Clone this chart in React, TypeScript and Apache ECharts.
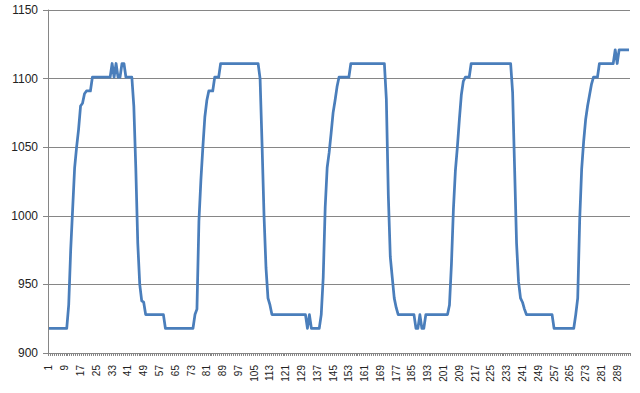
import React, { useEffect, useRef } from "react";
import * as echarts from "echarts";

const categories: string[] = Array.from({ length: 295 }, (_, i) => String(i + 1));

const values: number[] = [
  918, 918, 918, 918, 918, 918, 918, 918, 918, 918,
  935, 975, 1005, 1035, 1050, 1063, 1080, 1082, 1089, 1091, 1091, 1091,
  1101, 1101, 1101, 1101, 1101, 1101, 1101, 1101, 1101, 1101,
  1111, 1101, 1111, 1101, 1101, 1111, 1111, 1101, 1101, 1101, 1101,
  1080, 1035, 980, 950, 938, 937,
  928, 928, 928, 928, 928, 928, 928, 928, 928, 928,
  918, 918, 918, 918, 918, 918, 918, 918, 918, 918, 918, 918, 918, 918, 918,
  928, 932, 996, 1026, 1050, 1072, 1084, 1091, 1091, 1091, 1101, 1101, 1101,
  1111, 1111, 1111, 1111, 1111, 1111, 1111, 1111, 1111, 1111,
  1111, 1111, 1111, 1111, 1111, 1111, 1111, 1111, 1111, 1111,
  1100, 1052, 1000, 962, 940, 935,
  928, 928, 928, 928, 928, 928, 928, 928, 928, 928, 928, 928, 928, 928, 928, 928, 928, 928,
  918, 928, 918, 918, 918, 918, 918,
  928, 955, 1006, 1035, 1046, 1060, 1075, 1084, 1094,
  1101, 1101, 1101, 1101, 1101, 1101,
  1111, 1111, 1111, 1111, 1111, 1111, 1111, 1111, 1111,
  1111, 1111, 1111, 1111, 1111, 1111, 1111, 1111, 1111,
  1085, 1015, 970, 955, 940, 933,
  928, 928, 928, 928, 928, 928, 928, 928, 928,
  918, 918, 928, 918, 918,
  928, 928, 928, 928, 928, 928, 928, 928, 928, 928, 928, 928,
  935, 965, 1005, 1033, 1050, 1070, 1088, 1098,
  1101, 1101, 1101,
  1111, 1111, 1111, 1111, 1111, 1111, 1111, 1111, 1111, 1111, 1111,
  1111, 1111, 1111, 1111, 1111, 1111, 1111, 1111, 1111, 1111,
  1090, 1035, 980, 952, 940, 937, 932,
  928, 928, 928, 928, 928, 928, 928, 928, 928, 928, 928, 928, 928, 928,
  918, 918, 918, 918, 918, 918, 918, 918, 918, 918, 918,
  928, 940, 997, 1034, 1054, 1070, 1080, 1088, 1096,
  1101, 1101, 1101,
  1111, 1111, 1111, 1111, 1111, 1111, 1111, 1111,
  1121, 1111,
  1121, 1121, 1121, 1121, 1121, 1121,
];

const yMin = 900;
const yMax = 1150;
const yStep = 50;

export default function App() {
  const ref = useRef<HTMLDivElement>(null);
  useEffect(() => {
    if (!ref.current) return;
    const chart = echarts.init(ref.current, undefined, { renderer: "svg" });
    chart.setOption({
      animation: false,
      backgroundColor: "#ffffff",
      grid: { left: 48, right: 10, top: 10, bottom: 40, containLabel: false },
      xAxis: {
        type: "category",
        data: categories,
        boundaryGap: true,
        axisLine: { show: true, lineStyle: { color: "#868686", width: 1 } },
        axisTick: { show: true, interval: 0, length: 3, lineStyle: { color: "#868686" } },
        axisLabel: {
          interval: 7,
          rotate: 90,
          fontSize: 10,
          margin: 12,
          color: "#222",
          fontFamily: "Liberation Sans",
        },
        splitLine: { show: false },
      },
      yAxis: {
        type: "value",
        min: yMin,
        max: yMax,
        interval: yStep,
        axisLine: { show: true, lineStyle: { color: "#868686", width: 1 } },
        axisTick: { show: true, length: 5, lineStyle: { color: "#868686" } },
        axisLabel: {
          fontSize: 12,
          margin: 10,
          color: "#222",
          fontFamily: "Liberation Sans",
          formatter: (v: number) => String(v),
        },
        splitLine: { show: true, lineStyle: { color: "#868686", width: 1 } },
      },
      series: [
        {
          type: "line",
          data: values,
          showSymbol: false,
          symbol: "none",
          lineStyle: { color: "#4A7EBB", width: 2.75, join: "round" },
          itemStyle: { color: "#4A7EBB" },
        },
      ],
    });
    return () => chart.dispose();
  }, []);
  return (
    <div
      ref={ref}
      style={{ position: "fixed", left: 0, top: 0, width: 640, height: 393, background: "#fff" }}
    />
  );
}
